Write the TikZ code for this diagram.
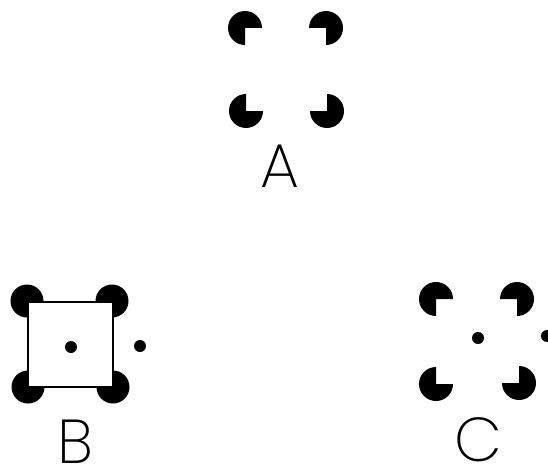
\documentclass[tikz,border=0pt]{standalone}
\usepackage{fontspec}
\IfFontExistsTF{Poppins ExtraLight}{\newfontfamily\labfont{Poppins ExtraLight}}{\IfFontExistsTF{Poppins Light}{\newfontfamily\labfont{Poppins Light}}{\newfontfamily\labfont{Poppins}}}
\tikzset{
  pac/.pic={\fill[black] (0,0) -- (\pacm+90:17) arc[start angle=\pacm+90, delta angle=270, radius=17] -- cycle;},
  disc/.style={fill=black, circle, inner sep=0pt, minimum size=33pt},
  dotmark/.style={fill=black, circle, inner sep=0pt, minimum size=12pt},
  lab/.style={font=\labfont\fontsize{62}{62}\selectfont, inner sep=0pt, text=black},
  sq/.style={draw=black, fill=white, line width=2.5pt}
}
\begin{document}
\begin{tikzpicture}[x=1pt,y=1pt]
\useasboundingbox (0,0) rectangle (548,467);
\clip (0,0) rectangle (548,467);
% A
\def\pacm{270}\pic at (245,439) {pac};
\def\pacm{180}\pic at (326,439) {pac};
\def\pacm{0}\pic at (246,356) {pac};
\def\pacm{90}\pic at (327,356) {pac};
\node[lab] (la) at (280,301) {A};
% B
\node[disc] (b1) at (27,166) {};
\node[disc] (b2) at (112,166) {};
\node[disc] (b3) at (28,80) {};
\node[disc] (b4) at (113,80) {};
\draw[sq] (28,165) rectangle (113,80);
\node[dotmark] (bd1) at (71,120) {};
\node[dotmark] (bd2) at (140,121) {};
\node[lab] (lb) at (75,25) {B};
% C
\def\pacm{270}\pic at (436,168) {pac};
\def\pacm{180}\pic at (517,168) {pac};
\def\pacm{0}\pic at (436,83) {pac};
\def\pacm{90}\pic at (519,84) {pac};
\node[dotmark] (cd1) at (478,129) {};
\node[dotmark] (cd2) at (547,131) {};
\node[lab] (lc) at (478,27) {C};
\end{tikzpicture}
\end{document}
